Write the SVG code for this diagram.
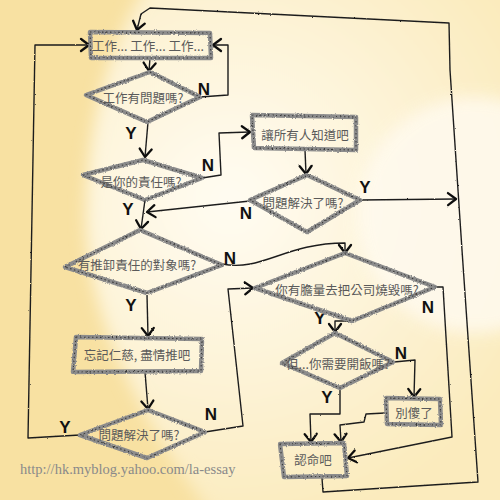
<svg xmlns="http://www.w3.org/2000/svg" width="500" height="500" viewBox="0 0 500 500">
<defs>
<style>
.shape{fill:none;stroke:#8c8c8c;stroke-width:4.5;stroke-linejoin:round;filter:url(#rough)}
.shape2{fill:none;stroke:#3a3a3a;stroke-width:1.1;stroke-dasharray:1.5 2.5;stroke-linejoin:round;filter:url(#rough)}
.lbl{font-family:"Noto Sans CJK TC","Noto Sans CJK SC",sans-serif;font-size:12.5px;fill:#5a5a5a;text-anchor:middle;dominant-baseline:central}
.con{fill:none;stroke:#1e1e1e;stroke-width:1.4;stroke-linejoin:round;marker-end:url(#arr);filter:url(#rough2)}
.yn{font-family:"Liberation Sans",Arial,sans-serif;font-weight:bold;font-size:17px;fill:#111;text-anchor:middle;dominant-baseline:central}
.url{font-family:"Liberation Serif","Times New Roman",serif;font-size:14.5px;fill:#8a8a8a}
</style>
<filter id="rough" filterUnits="userSpaceOnUse" x="0" y="0" width="500" height="500">
<feTurbulence type="fractalNoise" baseFrequency="0.9" numOctaves="2" seed="4" result="n"/>
<feDisplacementMap in="SourceGraphic" in2="n" scale="2.6" xChannelSelector="R" yChannelSelector="G"/>
</filter>
<filter id="rough2" filterUnits="userSpaceOnUse" x="0" y="0" width="500" height="500">
<feTurbulence type="fractalNoise" baseFrequency="0.7" numOctaves="2" seed="9" result="n"/>
<feDisplacementMap in="SourceGraphic" in2="n" scale="1.8" xChannelSelector="R" yChannelSelector="G"/>
</filter>
<filter id="blur" filterUnits="userSpaceOnUse" x="-50" y="-50" width="600" height="600"><feGaussianBlur stdDeviation="8"/></filter>
<radialGradient id="lightc" cx="230" cy="200" r="330" gradientUnits="userSpaceOnUse">
<stop offset="0" stop-color="#fffcf2"/>
<stop offset="0.55" stop-color="#fdf3d6"/>
<stop offset="1" stop-color="#fbebbd"/>
</radialGradient>
<marker id="arr" markerUnits="userSpaceOnUse" markerWidth="14" markerHeight="16" viewBox="-10 -8 12 16" refX="0" refY="0" orient="auto">
<path d="M-8,-6 L0,0 L-8,6" fill="none" stroke="#111" stroke-width="2.3" stroke-linecap="round" stroke-linejoin="round"/>
</marker>
</defs>

<g id="background">
<rect width="500" height="500" fill="#f8e1a2"/>
<path d="M150,-20 L520,-20 L520,520 L215,520 C150,430 88,330 86,220 C86,120 110,40 150,-20Z" fill="url(#lightc)" filter="url(#blur)"/>
<circle cx="475" cy="215" r="118" fill="#fffaef" opacity="0.85" filter="url(#blur)"/>
</g>

<g id="connectors">
<path class="con" d="M322,478 L323,492 L478,482 L462,250 L450,70 L449,23 L150,8 L141,14 L137,30"/>
<path class="con" d="M150,58 L149,71"/>
<path class="con" d="M200,97 L228,95 L228,45 L213,45"/>
<path class="con" d="M148,122 L145,157"/>
<path class="con" d="M202,178 L221,175 L219,133 L250,132"/>
<path class="con" d="M305,150 L306,174"/>
<path class="con" d="M250,201 L147,212"/>
<path class="con" d="M360,200 L456,199"/>
<path class="con" d="M145,200 L141,229"/>
<path class="con" d="M222,264 C262,272 285,243 345,243 L345,253"/>
<path class="con" d="M147,295 L148,336"/>
<path class="con" d="M145,372 L148,409"/>
<path class="con" d="M80,435 L28,438 L35,45 L89,45"/>
<path class="con" d="M205,432 L243,426 L228,289 L253,288"/>
<path class="con" d="M352,321 L335,321 L335,332"/>
<path class="con" d="M434,287 L443,287 L452,437 L348,458"/>
<path class="con" d="M394,362 L415,360 L414,397"/>
<path class="con" d="M340,388 L340,414 L310,414 L311,442"/>
<path class="con" d="M385,413 L366,414 L364,422 L340,425 L341,442"/>
</g>

<g id="edge-labels">
<text class="yn" x="204" y="89">N</text>
<text class="yn" x="131" y="133">Y</text>
<text class="yn" x="208" y="165">N</text>
<text class="yn" x="128" y="209">Y</text>
<text class="yn" x="246" y="213">N</text>
<text class="yn" x="365" y="187">Y</text>
<text class="yn" x="230" y="258">N</text>
<text class="yn" x="131" y="305">Y</text>
<text class="yn" x="65" y="427">Y</text>
<text class="yn" x="211" y="414">N</text>
<text class="yn" x="320" y="318">Y</text>
<text class="yn" x="428" y="307">N</text>
<text class="yn" x="401" y="353">N</text>
<text class="yn" x="327" y="397">Y</text>
</g>

<g id="n-work">
<path class="shape" d="M90,32 L210,33 L211,58 L91,58 Z"/>
<path class="shape2" d="M90,32 L210,33 L211,58 L91,58 Z"/>
<text class="lbl" x="148" y="45">工作... 工作... 工作...</text>
</g>

<g id="n-problem">
<path class="shape" d="M86,95 L150,72 L200,97 L147,122 Z"/>
<path class="shape2" d="M86,95 L150,72 L200,97 L147,122 Z"/>
<text class="lbl" x="143" y="97">工作有問題嗎?</text>
</g>

<g id="n-yours">
<path class="shape" d="M83,175 L143,160 L202,178 L145,200 Z"/>
<path class="shape2" d="M83,175 L143,160 L202,178 L145,200 Z"/>
<text class="lbl" x="141" y="181">是你的責任嗎?</text>
</g>

<g id="n-tell">
<path class="shape" d="M252,115 L356,117 L356,150 L254,148 Z"/>
<path class="shape2" d="M252,115 L356,117 L356,150 L254,148 Z"/>
<text class="lbl" x="305" y="134">讓所有人知道吧</text>
</g>

<g id="n-solved1">
<path class="shape" d="M250,200 L307,175 L360,200 L307,232 Z"/>
<path class="shape2" d="M250,200 L307,175 L360,200 L307,232 Z"/>
<text class="lbl" x="303" y="202">問題解決了嗎?</text>
</g>

<g id="n-blame">
<path class="shape" d="M65,267 L140,230 L222,265 L147,293 Z"/>
<path class="shape2" d="M65,267 L140,230 L222,265 L147,293 Z"/>
<text class="lbl" x="137" y="264">有推卸責任的對象嗎?</text>
</g>

<g id="n-burn">
<path class="shape" d="M255,288 L345,253 L435,287 L352,321 Z"/>
<path class="shape2" d="M255,288 L345,253 L435,287 L352,321 Z"/>
<text class="lbl" x="347" y="289">你有膽量去把公司燒毀嗎?</text>
</g>

<g id="n-push">
<path class="shape" d="M76,337 L202,339 L201,371 L73,372 Z"/>
<path class="shape2" d="M76,337 L202,339 L201,371 L73,372 Z"/>
<text class="lbl" x="137" y="354">忘記仁慈, 盡情推吧</text>
</g>

<g id="n-solved2">
<path class="shape" d="M80,435 L148,410 L205,432 L147,458 Z"/>
<path class="shape2" d="M80,435 L148,410 L205,432 L147,458 Z"/>
<text class="lbl" x="139" y="434">問題解決了嗎?</text>
</g>

<g id="n-eat">
<path class="shape" d="M282,363 L335,333 L393,362 L340,388 Z"/>
<path class="shape2" d="M282,363 L335,333 L393,362 L340,388 Z"/>
<text class="lbl" x="338" y="363">但...你需要開飯嗎?</text>
</g>

<g id="n-silly">
<path class="shape" d="M386,398 L440,399 L441,425 L387,424 Z"/>
<path class="shape2" d="M386,398 L440,399 L441,425 L387,424 Z"/>
<text class="lbl" x="414" y="412">別傻了</text>
</g>

<g id="n-accept">
<path class="shape" d="M280,444 L344,443 L347,476 L284,477 Z"/>
<path class="shape2" d="M280,444 L344,443 L347,476 L284,477 Z"/>
<text class="lbl" x="313" y="459">認命吧</text>
</g>

<text class="url" x="20" y="474">http://hk.myblog.yahoo.com/la-essay</text>
</svg>
